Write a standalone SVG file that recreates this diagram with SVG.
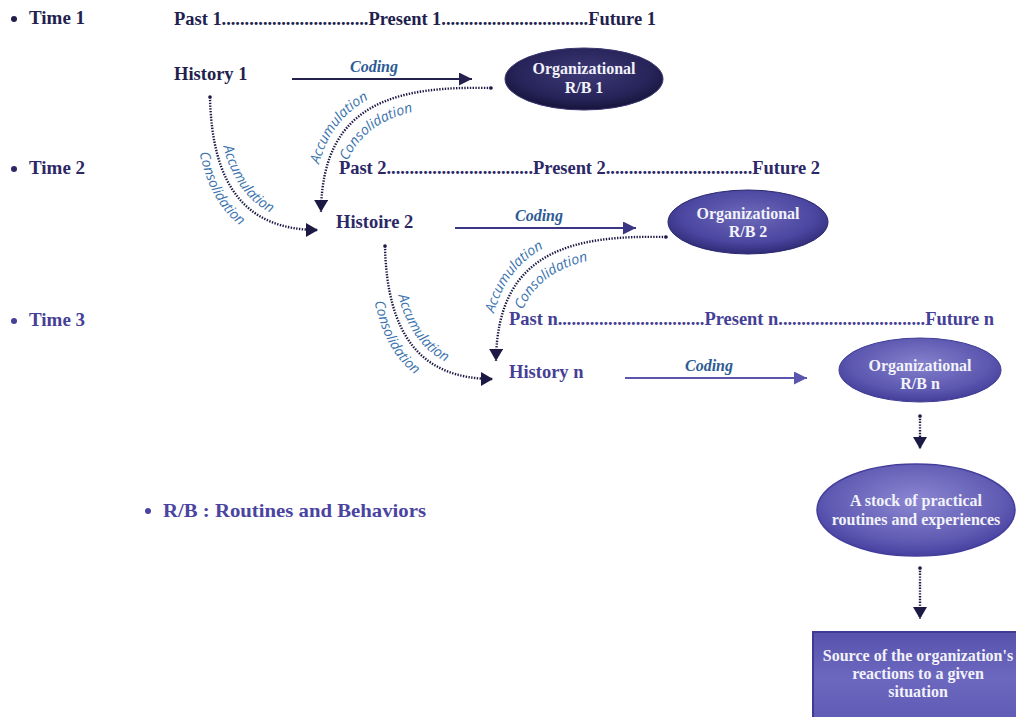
<svg xmlns="http://www.w3.org/2000/svg" width="1016" height="717" viewBox="0 0 1016 717">
  <style>
    .serif { font-family: "Liberation Serif", "Times New Roman", serif; font-weight: bold; }
    .time { font-size: 19px; }
    .row { font-size: 18.5px; }
    .hist { font-size: 18.5px; }
    .code { font-family: "Liberation Serif", serif; font-style: italic; font-weight: bold; font-size: 16px; fill: #2d5b94; }
    .lbl { font-family: "Open Sans", "DejaVu Sans", sans-serif; font-style: italic; font-size: 14px; fill: #3b73ae; }
    .node-text { font-family: "Liberation Serif", serif; font-weight: bold; font-size: 16px; fill: #f2f2fa; text-anchor: middle; }
    .dot { fill: none; stroke: #1c1a45; stroke-width: 2.4; stroke-dasharray: 1.4 1.4; }
    .c1 { fill: #221f4e; }
    .c2 { fill: #2c2868; }
    .c3 { fill: #463f96; }
  </style>
  <defs>
    <marker id="headDot" markerUnits="userSpaceOnUse" markerWidth="13" markerHeight="14" refX="12" refY="7" orient="auto">
      <path d="M0,0 L12,7 L0,14 z" fill="#1c1a45"/>
    </marker>
    <marker id="head1" markerUnits="userSpaceOnUse" markerWidth="14" markerHeight="13" refX="13" refY="6.5" orient="auto">
      <path d="M0,0 L13,6.5 L0,13 z" fill="#24214f"/>
    </marker>
    <marker id="head2" markerUnits="userSpaceOnUse" markerWidth="14" markerHeight="13" refX="13" refY="6.5" orient="auto">
      <path d="M0,0 L13,6.5 L0,13 z" fill="#3a3682"/>
    </marker>
    <marker id="head3" markerUnits="userSpaceOnUse" markerWidth="14" markerHeight="13" refX="13" refY="6.5" orient="auto">
      <path d="M0,0 L13,6.5 L0,13 z" fill="#5b56ad"/>
    </marker>
    <radialGradient id="g1" cx="50%" cy="40%" r="60%">
      <stop offset="0" stop-color="#3d3977"/>
      <stop offset="0.7" stop-color="#27245a"/>
      <stop offset="1" stop-color="#16143a"/>
    </radialGradient>
    <radialGradient id="g2" cx="50%" cy="40%" r="60%">
      <stop offset="0" stop-color="#6e6ab9"/>
      <stop offset="0.7" stop-color="#4b46a0"/>
      <stop offset="1" stop-color="#2f2b75"/>
    </radialGradient>
    <radialGradient id="g3" cx="50%" cy="40%" r="60%">
      <stop offset="0" stop-color="#8581cc"/>
      <stop offset="0.7" stop-color="#5d58b0"/>
      <stop offset="1" stop-color="#433e98"/>
    </radialGradient>
    <radialGradient id="g4" cx="50%" cy="40%" r="60%">
      <stop offset="0" stop-color="#8b87d2"/>
      <stop offset="0.7" stop-color="#625db4"/>
      <stop offset="1" stop-color="#4641a0"/>
    </radialGradient>
    <linearGradient id="gBox" x1="0" y1="0" x2="0" y2="1">
      <stop offset="0" stop-color="#5752ab"/>
      <stop offset="0.5" stop-color="#6c68bf"/>
      <stop offset="1" stop-color="#5f5ab4"/>
    </linearGradient>
    <!-- text guides for the curved labels -->
    <path id="tA1" d="M313,212 C314,93 397,77 489,79"/>
    <path id="tA2" d="M338,212 C339,116 408,105 489,105"/>
    <path id="tB1" d="M217,97 C219,177 251,223 318,223"/>
    <path id="tB2" d="M194,97 C196,199 232,247 318,247"/>
  </defs>

  <!-- period headings -->
  <g id="time1" class="serif time c1">
    <circle cx="14" cy="19" r="3"/>
    <text x="29" y="24">Time 1</text>
  </g>
  <g id="time2" class="serif time c2">
    <circle cx="14" cy="169" r="3"/>
    <text x="29" y="174">Time 2</text>
  </g>
  <g id="time3" class="serif time c3">
    <circle cx="14" cy="321" r="3"/>
    <text x="29" y="326">Time 3</text>
  </g>

  <!-- time lines -->
  <g id="line1" class="serif row c1">
    <text x="174" y="25" textLength="482" lengthAdjust="spacing">Past 1................................Present 1................................Future 1</text>
  </g>
  <g id="line2" class="serif row c2">
    <text x="339" y="174" textLength="481" lengthAdjust="spacing">Past 2................................Present 2................................Future 2</text>
  </g>
  <g id="line3" class="serif row c3">
    <text x="509" y="325" textLength="485" lengthAdjust="spacing">Past n................................Present n................................Future n</text>
  </g>

  <!-- histories -->
  <g id="history1" class="serif hist c1"><text x="174" y="80">History 1</text></g>
  <g id="history2" class="serif hist c2"><text x="336" y="228">Histoire 2</text></g>
  <g id="historyn" class="serif hist c3"><text x="509" y="378">History n</text></g>

  <!-- routines and behaviours -->
  <g id="rb1">
    <ellipse cx="584" cy="79" rx="79" ry="31" fill="url(#g1)" stroke="#3a3670" stroke-width="1"/>
    <text class="node-text" x="584" y="74">Organizational</text>
    <text class="node-text" x="584" y="93">R/B 1</text>
  </g>
  <g id="rb2">
    <ellipse cx="748" cy="222" rx="80" ry="32" fill="url(#g2)" stroke="#2c2870" stroke-width="1"/>
    <text class="node-text" x="748" y="219">Organizational</text>
    <text class="node-text" x="748" y="237">R/B 2</text>
  </g>
  <g id="rbn">
    <ellipse cx="920" cy="370" rx="81" ry="32" fill="url(#g3)" stroke="#423d96" stroke-width="1"/>
    <text class="node-text" x="920" y="371">Organizational</text>
    <text class="node-text" x="920" y="389">R/B n</text>
  </g>
  <g id="stock">
    <ellipse cx="916" cy="510" rx="99" ry="46" fill="url(#g4)" stroke="#433e9c" stroke-width="1.5"/>
    <text class="node-text" x="916" y="506">A stock of practical</text>
    <text class="node-text" x="916" y="525">routines and experiences</text>
  </g>
  <g id="source">
    <rect x="813" y="632" width="206" height="90" fill="url(#gBox)" stroke="#3f3a92" stroke-width="2"/>
    <text class="node-text" x="918" y="661">Source of the organization's</text>
    <text class="node-text" x="918" y="679">reactions to a given</text>
    <text class="node-text" x="918" y="697">situation</text>
  </g>

  <!-- legend -->
  <g id="legend" class="serif" fill="#4a44a0">
    <circle cx="148" cy="511" r="3"/>
    <text x="163" y="517" font-size="19" textLength="263" lengthAdjust="spacingAndGlyphs">R/B : Routines and Behaviors</text>
  </g>

  <!-- connectors -->
  <g id="connectors">
    <!-- coding -->
    <line x1="292" y1="79" x2="472" y2="79" stroke="#24214f" stroke-width="2" marker-end="url(#head1)"/>
    <text class="code" x="350" y="72">Coding</text>
    <line x1="455" y1="228" x2="636" y2="228" stroke="#3a3682" stroke-width="2" marker-end="url(#head2)"/>
    <text class="code" x="515" y="221">Coding</text>
    <line x1="625" y1="378" x2="807" y2="378" stroke="#5b56ad" stroke-width="2" marker-end="url(#head3)"/>
    <text class="code" x="685" y="371" fill="#35538f">Coding</text>

    <!-- accumulation / consolidation, first transition -->
    <g id="flow1">
      <circle cx="491" cy="88" r="1.8" fill="#1c1a45"/>
      <path class="dot" d="M491,88 C400,86 322,100 321,212" marker-end="url(#headDot)"/>
      <circle cx="210" cy="97" r="1.8" fill="#1c1a45"/>
      <path class="dot" d="M210,97 C212,185 245,230 318,230" marker-end="url(#headDot)"/>
      <text class="lbl"><textPath href="#tA1" startOffset="48">Accumulation</textPath></text>
      <text class="lbl"><textPath href="#tA2" startOffset="52">Consolidation</textPath></text>
      <text class="lbl"><textPath href="#tB1" startOffset="50">Accumulation</textPath></text>
      <text class="lbl"><textPath href="#tB2" startOffset="56">Consolidation</textPath></text>
    </g>
    <!-- second transition, same shape moved down a period -->
    <g id="flow2" transform="translate(175,149)">
      <circle cx="491" cy="88" r="1.8" fill="#1c1a45"/>
      <path class="dot" d="M491,88 C400,86 322,100 321,212" marker-end="url(#headDot)"/>
      <circle cx="210" cy="97" r="1.8" fill="#1c1a45"/>
      <path class="dot" d="M210,97 C212,185 245,230 318,230" marker-end="url(#headDot)"/>
      <text class="lbl"><textPath href="#tA1" startOffset="48">Accumulation</textPath></text>
      <text class="lbl"><textPath href="#tA2" startOffset="52">Consolidation</textPath></text>
      <text class="lbl"><textPath href="#tB1" startOffset="50">Accumulation</textPath></text>
      <text class="lbl"><textPath href="#tB2" startOffset="56">Consolidation</textPath></text>
    </g>

    <!-- down to the stock and the source -->
    <circle cx="920" cy="416" r="1.8" fill="#1c1a45"/>
    <path class="dot" d="M920,416 L920,449" marker-end="url(#headDot)"/>
    <circle cx="920" cy="568" r="1.8" fill="#1c1a45"/>
    <path class="dot" d="M920,568 L920,619" marker-end="url(#headDot)"/>
  </g>
</svg>
